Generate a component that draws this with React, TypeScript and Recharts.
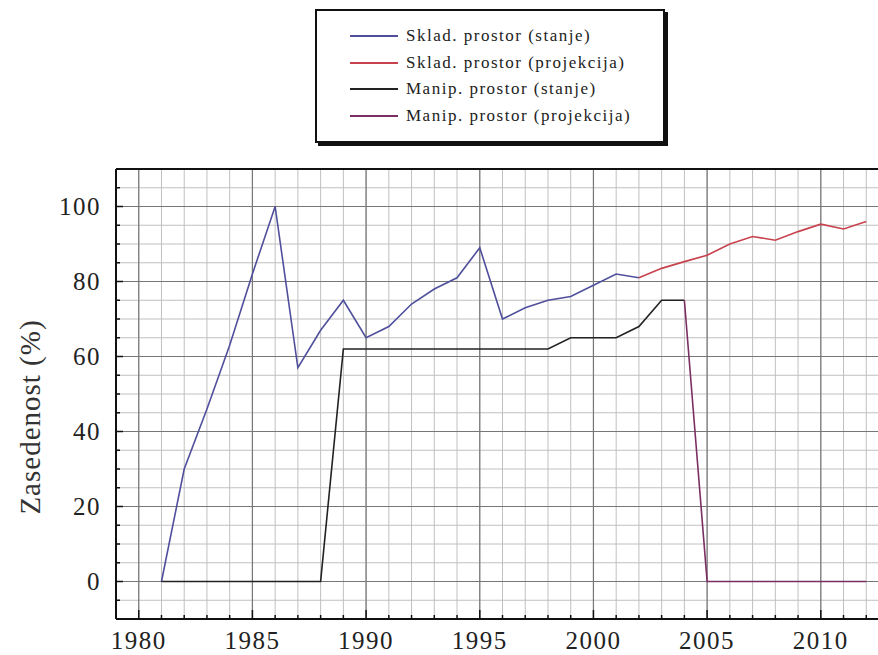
import { LineChart, Line, XAxis, YAxis, CartesianGrid, ReferenceLine, Label } from 'recharts';

// years on the x axis
const years = [
  1981, 1982, 1983, 1984, 1985, 1986, 1987, 1988, 1989, 1990, 1991, 1992, 1993, 1994, 1995, 1996,
  1997, 1998, 1999, 2000, 2001, 2002, 2003, 2004, 2005, 2006, 2007, 2008, 2009, 2010, 2011, 2012,
];

// Sklad. prostor (stanje): 1981 - 2002
const skladStanje = [0, 30, 46, 63, 82, 100, 57, 67, 75, 65, 68, 74, 78, 81, 89, 70, 73, 75, 76, 79, 82, 81];
// Sklad. prostor (projekcija): 2002 - 2012
const skladProjekcija = [81, 83.5, 85.3, 87, 90, 92, 91, 93.3, 95.3, 94, 96];
// Manip. prostor (stanje): 1981 - 2004
const manipStanje = [0, 0, 0, 0, 0, 0, 0, 0, 62, 62, 62, 62, 62, 62, 62, 62, 62, 62, 65, 65, 65, 68, 75, 75];
// Manip. prostor (projekcija): 2004 - 2012
const manipProjekcija = [75, 0, 0, 0, 0, 0, 0, 0, 0];

const xTicks = [
  1979, 1980, 1981, 1982, 1983, 1984, 1985, 1986, 1987, 1988, 1989, 1990, 1991, 1992, 1993, 1994, 1995,
  1996, 1997, 1998, 1999, 2000, 2001, 2002, 2003, 2004, 2005, 2006, 2007, 2008, 2009, 2010, 2011, 2012, 2013,
];
const yTicks = [-10, -5, 0, 5, 10, 15, 20, 25, 30, 35, 40, 45, 50, 55, 60, 65, 70, 75, 80, 85, 90, 95, 100, 105, 110];
const xMajor = [1980, 1985, 1990, 1995, 2000, 2005, 2010];
const yMajor = [0, 20, 40, 60, 80, 100];

const series = [
  { key: 'skladStanje', name: 'Sklad. prostor (stanje)', color: '#4f4f9c', start: 1981, values: skladStanje },
  { key: 'skladProjekcija', name: 'Sklad. prostor (projekcija)', color: '#c8424e', start: 2002, values: skladProjekcija },
  { key: 'manipStanje', name: 'Manip. prostor (stanje)', color: '#222222', start: 1981, values: manipStanje },
  { key: 'manipProjekcija', name: 'Manip. prostor (projekcija)', color: '#7a2f62', start: 2004, values: manipProjekcija },
];

const data = years.map((year) => {
  const row: Record<string, number | undefined> = { year };
  series.forEach((s) => {
    const v = s.values[year - s.start];
    row[s.key] = year >= s.start ? v : undefined;
  });
  return row;
});

const SERIF = "'Liberation Serif', 'Times New Roman', Tinos, 'DejaVu Serif', serif";

const tickFont = { fontFamily: SERIF, fontSize: 25, letterSpacing: 1.5, fill: '#222' };

const XTick = (props: any) => {
  const { x, y, payload } = props;
  const v = payload.value as number;
  const major = v % 5 === 0;
  return (
    <g>
      <line x1={x} y1={y} x2={x} y2={y - (major ? 9 : 4)} stroke="#111" strokeWidth={1.5} />
      {major && (
        <text x={x} y={y + 30} textAnchor="middle" fontFamily={SERIF} style={tickFont}>
          {v}
        </text>
      )}
    </g>
  );
};

const YTick = (props: any) => {
  const { x, y, payload } = props;
  const v = payload.value as number;
  const major = v % 20 === 0 && v >= 0 && v <= 100;
  return (
    <g>
      <line x1={x} y1={y} x2={x + (major ? 7 : 4)} y2={y} stroke="#111" strokeWidth={1.5} />
      {major && (
        <text x={x - 15} y={y + 8} textAnchor="end" fontFamily={SERIF} style={tickFont}>
          {v}
        </text>
      )}
    </g>
  );
};

export default function App() {
  return (
    <div style={{ position: 'absolute', left: 0, top: 0, width: 878, height: 655, overflow: 'hidden', background: '#fff' }}>
      {/* legend box */}
      <div
        style={{
          position: 'absolute',
          left: 315,
          top: 9,
          width: 346,
          height: 130,
          border: '2px solid #111',
          boxShadow: '3px 3px 0 #111',
          background: '#fff',
          boxSizing: 'content-box',
          zIndex: 2,
        }}
      >
        {series.map((s, i) => (
          <div
            key={s.key}
            style={{
              position: 'absolute',
              left: 33,
              top: 12 + i * 26.5,
              height: 26,
              display: 'flex',
              alignItems: 'center',
              whiteSpace: 'nowrap',
            }}
          >
            <div style={{ width: 48, height: 0, borderTop: `2px solid ${s.color}` }} />
            <span
              style={{
                marginLeft: 8,
                fontFamily: SERIF,
                fontSize: 17,
                letterSpacing: 1.5,
                color: '#222',
              }}
            >
              {s.name}
            </span>
          </div>
        ))}
      </div>

      <LineChart width={900} height={655} data={data} margin={{ top: 169, right: 11, bottom: 0, left: 0 }}>
        <CartesianGrid stroke="#c0c0c0" strokeWidth={1} />
        {xMajor.map((v) => (
          <ReferenceLine key={'x' + v} x={v} stroke="#777" strokeWidth={1.2} />
        ))}
        {yMajor.map((v) => (
          <ReferenceLine key={'y' + v} y={v} stroke="#777" strokeWidth={1.2} />
        ))}
        <ReferenceLine y={110} stroke="#111" strokeWidth={2} />
        <XAxis
          dataKey="year"
          type="number"
          domain={[1979, 2013]}
          ticks={xTicks}
          interval={0}
          height={36}
          tickSize={0}
          tickMargin={0}
          tickLine={false}
          axisLine={{ stroke: '#111', strokeWidth: 2 }}
          tick={<XTick />}
        />
        <YAxis
          type="number"
          domain={[-10, 110]}
          ticks={yTicks}
          interval={0}
          width={116}
          tickSize={0}
          tickMargin={0}
          tickLine={false}
          axisLine={{ stroke: '#111', strokeWidth: 2 }}
          tick={<YTick />}
        >
          <Label
            content={() => (
              <text
                x={40}
                y={417}
                transform="rotate(-90 40 417)"
                textAnchor="middle"
                fontFamily={SERIF}
                style={{ fontFamily: SERIF, fontSize: 29, letterSpacing: 1, fill: '#333' }}
              >
                Zasedenost (%)
              </text>
            )}
          />
        </YAxis>
        {series.map((s) => (
          <Line
            key={s.key}
            dataKey={s.key}
            name={s.name}
            type="linear"
            stroke={s.color}
            strokeWidth={1.6}
            dot={false}
            activeDot={false}
            isAnimationActive={false}
          />
        ))}
      </LineChart>
    </div>
  );
}
